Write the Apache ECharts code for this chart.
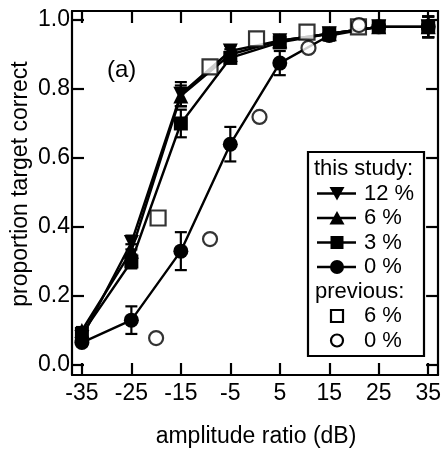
<!DOCTYPE html>
<html>
<head>
<meta charset="utf-8">
<script src="https://cdn.jsdelivr.net/npm/echarts@6/dist/echarts.min.js"></script>
<style>
  html, body { margin: 0; padding: 0; background: #fff; }
  #chart { width: 444px; height: 452px; }
</style>
</head>
<body>
<div id="chart"></div>
<script>
// Amplitude ratio levels (dB)
var ratios = [-35, -25, -15, -5, 5, 15, 25, 35];

// This study: proportion target correct per condition
var p12 = [0.08, 0.355, 0.785, 0.91, 0.94, 0.96, 0.98, 0.98];
var p6  = [0.10, 0.33, 0.78, 0.90, 0.94, 0.96, 0.98, 0.98];
var p3  = [0.09, 0.30, 0.70, 0.89, 0.935, 0.96, 0.98, 0.98];
var p0  = [0.065, 0.13, 0.33, 0.64, 0.875, 0.955, 0.98, 0.98];

// Error bar half-widths
var e12 = [0.01, 0.02, 0.035, 0.015, 0.015, 0.01, 0.01, 0.03];
var e6  = [0.01, 0.02, 0.03, 0.015, 0.015, 0.01, 0.01, 0.03];
var e3  = [0.01, 0.02, 0.04, 0.015, 0.015, 0.01, 0.01, 0.03];
var e0  = [0.01, 0.04, 0.055, 0.05, 0.035, 0.015, 0.01, 0.03];

// Previous study
var prevX6 = [-19.6, -9.1, 0.3, 10.5, 20.9];
var prev6  = [0.426, 0.864, 0.945, 0.965, 0.98];
var prevX0 = [-20, -9.1, 0.9, 10.8, 21];
var prev0  = [0.078, 0.365, 0.719, 0.919, 0.985];

var xTicks = [-35, -25, -15, -5, 5, 15, 25, 35];
var yTicks = [0, 0.2, 0.4, 0.6, 0.8, 1.0];

var FONT = 'Liberation Sans, Arial, Helvetica, sans-serif';
var INK = '#000';

function pairs(xs, ys) { return xs.map(function (x, i) { return [x, ys[i]]; }); }
function errData(vals, errs) {
  return ratios.map(function (x, i) { return [x, vals[i] - errs[i], vals[i] + errs[i]]; });
}

function errorSeries(vals, errs) {
  return {
    type: 'custom',
    z: 1,
    silent: true,
    data: errData(vals, errs),
    renderItem: function (params, api) {
      var lo = api.coord([api.value(0), api.value(1)]);
      var hi = api.coord([api.value(0), api.value(2)]);
      var cap = 6;
      var s = { stroke: INK, lineWidth: 2.2 };
      return {
        type: 'group',
        children: [
          { type: 'line', shape: { x1: lo[0], y1: lo[1], x2: hi[0], y2: hi[1] }, style: s },
          { type: 'line', shape: { x1: lo[0] - cap, y1: lo[1], x2: lo[0] + cap, y2: lo[1] }, style: s },
          { type: 'line', shape: { x1: hi[0] - cap, y1: hi[1], x2: hi[0] + cap, y2: hi[1] }, style: s }
        ]
      };
    }
  };
}

function lineSeries(name, vals, symbol, size, rotate) {
  return {
    name: name,
    type: 'line',
    z: 3,
    data: pairs(ratios, vals),
    symbol: symbol,
    symbolSize: size,
    symbolRotate: rotate || 0,
    showAllSymbol: true,
    lineStyle: { color: INK, width: 2.4 },
    itemStyle: { color: INK, borderColor: INK, borderWidth: 0 }
  };
}

var chart = echarts.init(document.getElementById('chart'), null, { renderer: 'canvas' });

var axisCommon = {
  axisLine: { show: true, onZero: false, lineStyle: { color: INK, width: 2.2 } },
  splitLine: { show: false }
};

var tickStyle = { inside: true, length: 12, lineStyle: { color: INK, width: 2.2 } };

// Legend block
var legendX = 308, legendY = 152, rowH = 24.5;
var symX = 337, textX = 364;
var LFONT = '22px ' + FONT;
function rowY(i) { return legendY + 17 + i * rowH; }
var legendChildren = [
  { type: 'rect', shape: { x: legendX, y: legendY, width: 116, height: 204 },
    style: { fill: '#fff', stroke: INK, lineWidth: 2.2 } },
  { type: 'text', style: { x: 314, y: rowY(0), text: 'this study:', font: LFONT, fill: INK, textVerticalAlign: 'middle' } },
  { type: 'text', style: { x: 315, y: rowY(5), text: 'previous:', font: LFONT, fill: INK, textVerticalAlign: 'middle' } }
];
var legendRows = [
  { label: '12 %', shape: 'down' },
  { label: '6 %', shape: 'up' },
  { label: '3 %', shape: 'square' },
  { label: '0 %', shape: 'circle' }
];
legendRows.forEach(function (r, k) {
  var y = rowY(k + 1);
  legendChildren.push({ type: 'line', shape: { x1: 317, y1: y, x2: 356, y2: y }, style: { stroke: INK, lineWidth: 2.4 } });
  var m;
  if (r.shape === 'down') m = { type: 'polygon', shape: { points: [[symX - 7.5, y - 6.5], [symX + 7.5, y - 6.5], [symX, y + 7]] }, style: { fill: INK } };
  else if (r.shape === 'up') m = { type: 'polygon', shape: { points: [[symX - 7.5, y + 6.5], [symX + 7.5, y + 6.5], [symX, y - 7]] }, style: { fill: INK } };
  else if (r.shape === 'square') m = { type: 'rect', shape: { x: symX - 6.5, y: y - 6.5, width: 13, height: 13 }, style: { fill: INK } };
  else m = { type: 'circle', shape: { cx: symX, cy: y, r: 7 }, style: { fill: INK } };
  legendChildren.push(m);
  legendChildren.push({ type: 'text', style: { x: textX, y: y, text: r.label, font: LFONT, fill: INK, textVerticalAlign: 'middle' } });
});
(function () {
  var y = rowY(6);
  legendChildren.push({ type: 'rect', shape: { x: symX - 6, y: y - 6, width: 12, height: 12 }, style: { fill: '#fff', stroke: INK, lineWidth: 2.2 } });
  legendChildren.push({ type: 'text', style: { x: textX, y: y, text: '6 %', font: LFONT, fill: INK, textVerticalAlign: 'middle' } });
  y = rowY(7);
  legendChildren.push({ type: 'circle', shape: { cx: symX, cy: y, r: 6 }, style: { fill: '#fff', stroke: INK, lineWidth: 2.2 } });
  legendChildren.push({ type: 'text', style: { x: textX, y: y, text: '0 %', font: LFONT, fill: INK, textVerticalAlign: 'middle' } });
})();

var option = {
  animation: false,
  backgroundColor: '#fff',
  grid: { left: 72, right: 2, top: 11, bottom: 77, containLabel: false },
  xAxis: [
    Object.assign({}, axisCommon, {
      type: 'value', position: 'bottom', min: -37, max: 37,
      axisTick: Object.assign({ customValues: xTicks }, tickStyle),
      axisLabel: { customValues: xTicks, color: INK, fontSize: 23, fontFamily: FONT, margin: 7 }
    }),
    Object.assign({}, axisCommon, {
      type: 'value', position: 'top', min: -37, max: 37,
      axisTick: Object.assign({ customValues: xTicks }, tickStyle),
      axisLabel: { show: false }
    })
  ],
  yAxis: [
    Object.assign({}, axisCommon, {
      type: 'value', position: 'left', min: -0.029, max: 1.026,
      axisTick: Object.assign({ customValues: yTicks }, tickStyle),
      axisLabel: { customValues: yTicks, color: INK, fontSize: 23, fontFamily: FONT, margin: 2,
        formatter: function (v) { return v.toFixed(1); } }
    }),
    Object.assign({}, axisCommon, {
      type: 'value', position: 'right', min: -0.029, max: 1.026,
      axisTick: Object.assign({ customValues: yTicks }, tickStyle),
      axisLabel: { show: false }
    })
  ],
  graphic: [
    { type: 'text', style: { x: 107, y: 70, text: '(a)', font: '24px ' + FONT, fill: INK, textVerticalAlign: 'middle' } },
    { type: 'text', rotation: Math.PI / 2, x: 21, y: 184,
      style: { x: 0, y: 0, text: 'proportion target correct', font: '23px ' + FONT, fill: INK, textAlign: 'center', textVerticalAlign: 'middle' } },
    { type: 'text', style: { x: 256, y: 437, text: 'amplitude ratio (dB)', font: '23px ' + FONT, fill: INK, textAlign: 'center', textVerticalAlign: 'middle' } },
    { type: 'group', children: legendChildren, z: 10 }
  ],
  series: [
    errorSeries(p12, e12),
    errorSeries(p6, e6),
    errorSeries(p3, e3),
    errorSeries(p0, e0),
    lineSeries('0 %', p0, 'circle', 15),
    lineSeries('3 %', p3, 'rect', 14),
    lineSeries('6 %', p6, 'triangle', 15),
    lineSeries('12 %', p12, 'triangle', 15, 180),
    {
      name: 'previous 6 %', type: 'scatter', z: 4,
      data: pairs(prevX6, prev6), symbol: 'rect', symbolSize: 15,
      itemStyle: { color: '#fff', borderColor: INK, borderWidth: 2.2 }
    },
    {
      name: 'previous 0 %', type: 'scatter', z: 4,
      data: pairs(prevX0, prev0), symbol: 'circle', symbolSize: 14,
      itemStyle: { color: '#fff', borderColor: INK, borderWidth: 2.2 }
    }
  ]
};

chart.setOption(option);
</script>
</body>
</html>
